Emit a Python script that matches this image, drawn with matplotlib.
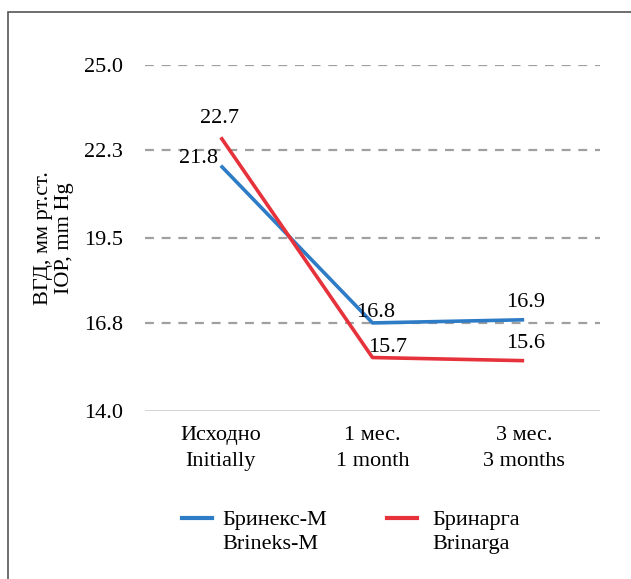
import matplotlib.pyplot as plt
import matplotlib.patches as mpatches
import numpy as np

categories = ["Исходно\nInitially", "1 мес.\n1 month", "3 мес.\n3 months"]
brineks = [21.8, 16.8, 16.9]
brinarga = [22.7, 15.7, 15.6]
yticks = [14.0, 16.8, 19.5, 22.3, 25.0]
series_names = ["Бринекс-М\nBrineks-M", "Бринарга\nBrinarga"]

plt.rcParams['font.family'] = ['Liberation Serif', 'DejaVu Serif']
plt.rcParams['font.size'] = 16

fig = plt.figure(figsize=(6.31, 5.79), dpi=100)
ax = fig.add_axes([145 / 631, 168 / 579, 455 / 631, 346 / 579])

blue = "#2e7cc6"
red = "#e6323b"
x = np.arange(len(categories))

for y in yticks[1:]:
    ax.axhline(y, color="#a0a0a0", lw=1.6, ls=(0, (4, 3.5)), zorder=1)
ax.axhline(yticks[0], color="#c8c8c8", lw=1.8, zorder=1)

ax.plot(x, brineks, color=blue, lw=2.6, zorder=3, solid_capstyle="butt")
ax.plot(x, brinarga, color=red, lw=2.6, zorder=3, solid_capstyle="butt")

ax.set_xlim(-0.5, 2.5)
ax.set_ylim(14.0, 25.0)
ax.set_yticks(yticks)
ax.set_yticklabels([f"{v:.1f}" for v in yticks])
ax.set_xticks(x)
ax.set_xticklabels(categories, linespacing=1.45)
ax.tick_params(length=0)
ax.tick_params(axis="x", pad=11)
ax.tick_params(axis="y", pad=16)
for s in ax.spines.values():
    s.set_visible(False)

ax.set_ylabel("ВГД, мм рт.ст.\nIOP, mm Hg", linespacing=1.15)
ax.yaxis.set_label_coords(-0.155, 0.5)

# value labels (offsets in points)
ax.annotate(f"{brinarga[0]}", (x[0], brinarga[0]), xytext=(-1, 10), textcoords="offset points", ha="center", va="baseline")
ax.annotate(f"{brineks[0]}", (x[0], brineks[0]), xytext=(-2, 2), textcoords="offset points", ha="right", va="baseline")
ax.annotate(f"{brineks[1]}", (x[1], brineks[1]), xytext=(2, 4), textcoords="offset points", ha="center", va="baseline")
ax.annotate(f"{brinarga[1]}", (x[1], brinarga[1]), xytext=(11, 4), textcoords="offset points", ha="center", va="baseline")
ax.annotate(f"{brineks[2]}", (x[2], brineks[2]), xytext=(1, 9), textcoords="offset points", ha="center", va="baseline")
ax.annotate(f"{brinarga[2]}", (x[2], brinarga[2]), xytext=(1, 9), textcoords="offset points", ha="center", va="baseline")

# legend: handle aligned with the first text line
for (hx, tx), name, col in zip([(182 / 631, 222 / 631), (387 / 631, 432 / 631)], series_names, [blue, red]):
    fig.lines.append(plt.Line2D([hx, hx + 30 / 631], [1 - 518 / 579] * 2, color=col, lw=3,
                                transform=fig.transFigure))
    fig.text(tx, 1 - 511 / 579, name, ha="left", va="top", linespacing=1.35)

fig.patches.append(mpatches.Rectangle((8 / 631, -0.1), 2.0, (579 - 12) / 579 + 0.1,
                                      transform=fig.transFigure, fill=False,
                                      edgecolor="#555555", lw=1.2))

fig.savefig("out.png", dpi=100)
